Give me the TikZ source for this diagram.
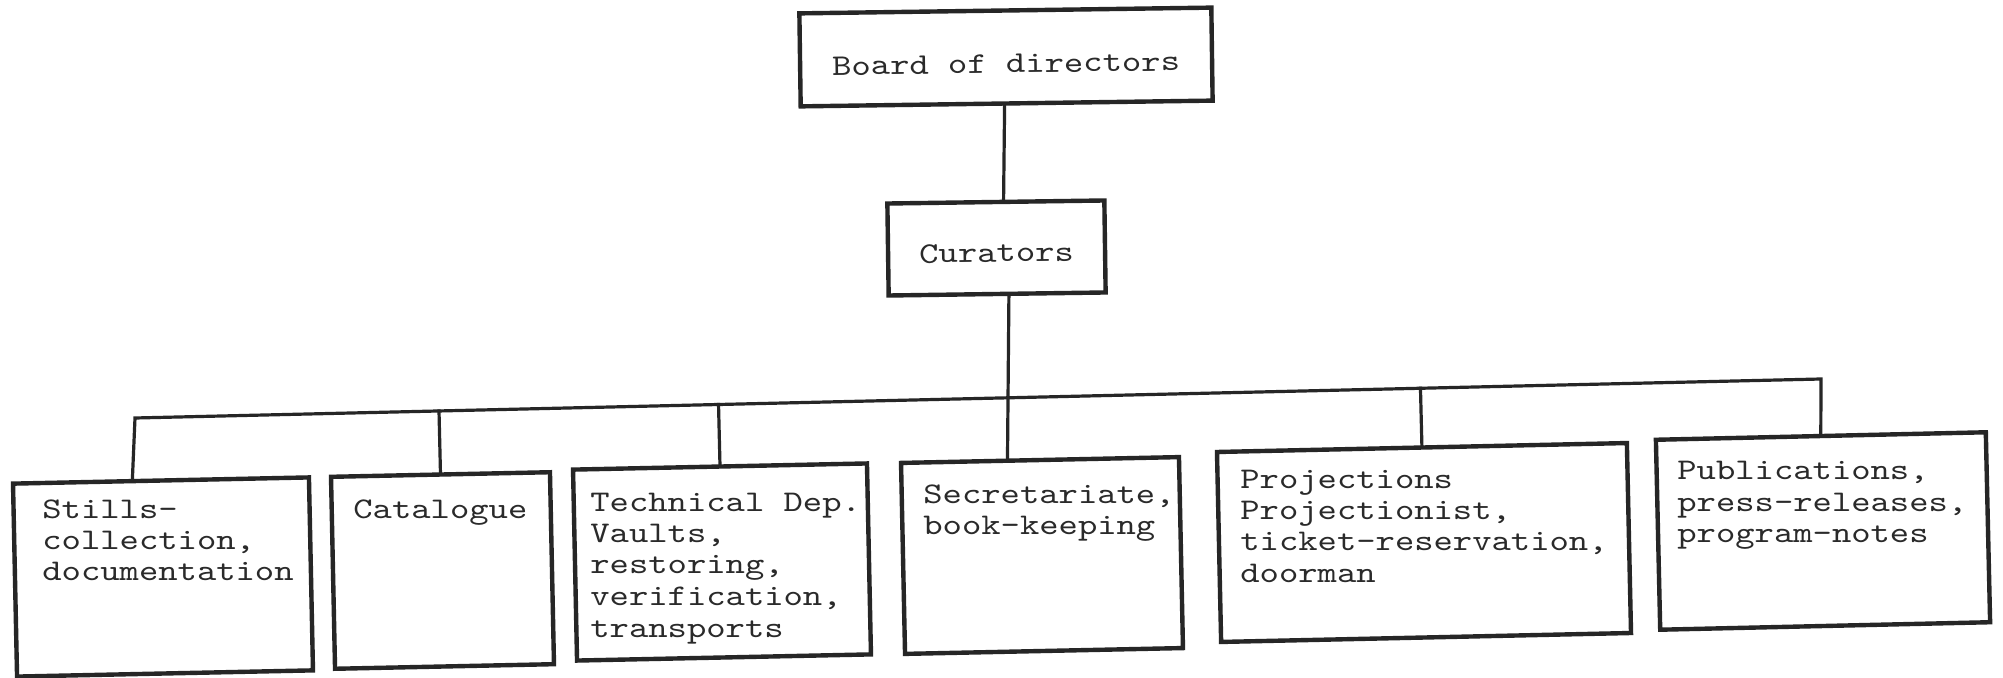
\documentclass[tikz,border=0pt]{standalone}
\usepackage{fontspec}
\newfontfamily\typew{lmmono10-regular}[Extension=.otf, FakeStretch=1.227]
\usetikzlibrary{calc}
\definecolor{ink}{HTML}{262626}
\definecolor{typeink}{HTML}{2A2A2A}
\newcommand\tsp{\hphantom{x}}
\begin{document}
\begin{tikzpicture}[x=0.5pt,y=-0.5pt,
  box/.style={draw=ink, line width=2.2pt, rectangle, inner sep=0pt},
  conn/.style={draw=ink, line width=1.6pt, line join=miter, line cap=rect},
  tfont/.style={font=\typew\fontsize{15}{15.75}\selectfont, text=typeink},
  dtext/.style={tfont, inner sep=0pt, anchor=base west, align=left}]
\useasboundingbox (0,0) rectangle (2003,678);
\fill[white] (0,0) rectangle (2003,678);

% top boxes
\node[box, tfont, minimum width=206pt, minimum height=46.5pt, text height=16pt, text depth=0pt, rotate=0.8] (board) at (1006,57) {Board of directors};
\node[box, tfont, minimum width=108.5pt, minimum height=46pt, text height=14pt, text depth=0pt, rotate=0.8] (cur) at (996.5,248) {Curators};

% department boxes
\node[box, minimum width=148pt, minimum height=96.5pt, rotate=1.2] (b1) at (163,577) {};
\node[box, minimum width=109.5pt, minimum height=96pt, rotate=1.2] (b2) at (442.5,570.5) {};
\node[box, minimum width=147pt, minimum height=95.5pt, rotate=1.2] (b3) at (722,562) {};
\node[box, minimum width=139pt, minimum height=95.5pt, rotate=1.2] (b4) at (1042,555.5) {};
\node[box, minimum width=205pt, minimum height=95pt, rotate=1.25] (b5) at (1424,542.5) {};
\node[box, minimum width=165pt, minimum height=95pt, rotate=1.3] (b6) at (1823,531) {};

% department texts
\node[dtext, text width=130pt] (t1) at (42,518) {Stills-\\collection,\\documentation};
\node[dtext, text width=90pt] (t2) at (353,518) {Catalogue};
\node[dtext, text width=140pt] (t3) at (590,511) {Technical\tsp Dep.\\Vaults,\\restoring,\\verification,\\transports};
\node[dtext, text width=130pt] (t4) at (923,503) {Secretariate,\\book-keeping};
\node[dtext, text width=188pt] (t5) at (1240,488) {Projections\\Projectionist,\\ticket-reservation,\\doorman};
\node[dtext, text width=150pt] (t6) at (1677,480) {Publications,\\press-releases,\\program-notes};

% connectors
\coordinate (busL) at (135,418);
\coordinate (busR) at (1821,379);
\coordinate (b1top) at ($(b1.north west)!0.405!(b1.north east)$);
\coordinate (boardbot) at ($(board.south west)!0.495!(board.south east)$);
\coordinate (curtop) at ($(cur.north west)!0.535!(cur.north east)$);
\coordinate (curbot) at ($(cur.south west)!0.553!(cur.south east)$);
\coordinate (b4top) at ($(b4.north west)!0.385!(b4.north east)$);

\draw[conn] (boardbot) -- (curtop);
\draw[conn] (curbot) -- (b4top);
\draw[conn] (b1top) -- (busL) -- (busR) -- (b6.north);
\draw[conn] (b2.north) -- ($(busL)!(b2.north)!(busR)$);
\draw[conn] (b3.north) -- ($(busL)!(b3.north)!(busR)$);
\draw[conn] (b5.north) -- ($(busL)!(b5.north)!(busR)$);
\end{tikzpicture}
\end{document}
